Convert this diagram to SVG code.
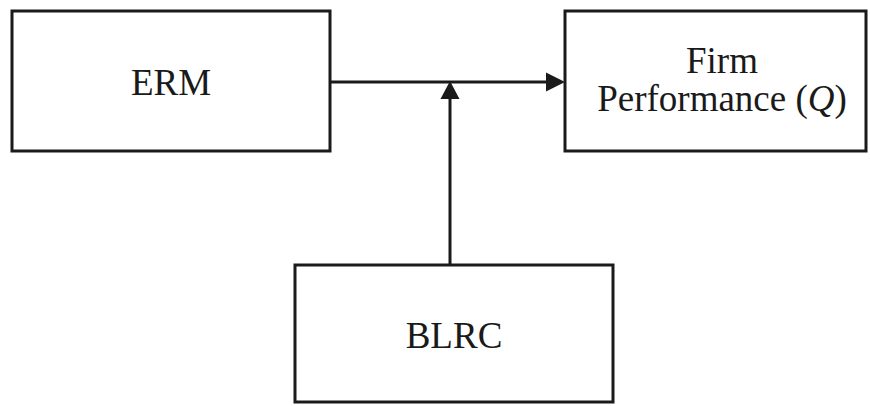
<svg xmlns="http://www.w3.org/2000/svg" width="870" height="406" viewBox="0 0 870 406">
  <style>
    .box { fill: #ffffff; stroke: #1a1a1a; stroke-width: 3; }
    .label { font-family: "Liberation Serif", "Times New Roman", serif; font-size: 37px; fill: #1a1a1a; text-anchor: middle; }
    .wire { stroke: #1a1a1a; stroke-width: 3; fill: none; }
    .head { fill: #1a1a1a; }
  </style>
  <rect width="870" height="406" fill="#ffffff"/>

  <g id="erm">
    <rect class="box" x="12" y="11" width="318" height="140"/>
    <text class="label" x="171" y="95">ERM</text>
  </g>

  <g id="firm-performance">
    <rect class="box" x="565" y="11" width="301" height="140"/>
    <text class="label" x="722" y="73">Firm</text>
    <text class="label" x="722" y="111">Performance (<tspan font-style="italic">Q</tspan>)</text>
  </g>

  <g id="blrc">
    <rect class="box" x="295" y="265" width="318" height="137"/>
    <text class="label" x="454" y="348">BLRC</text>
  </g>

  <g id="connectors">
    <!-- ERM to Firm Performance -->
    <line class="wire" x1="330" y1="82" x2="548" y2="82"/>
    <polygon class="head" points="565,82 546,72.5 546,91.5"/>
    <!-- BLRC moderating the ERM path -->
    <line class="wire" x1="450" y1="265" x2="450" y2="97"/>
    <polygon class="head" points="450,81 440.5,99 459.5,99"/>
  </g>
</svg>
